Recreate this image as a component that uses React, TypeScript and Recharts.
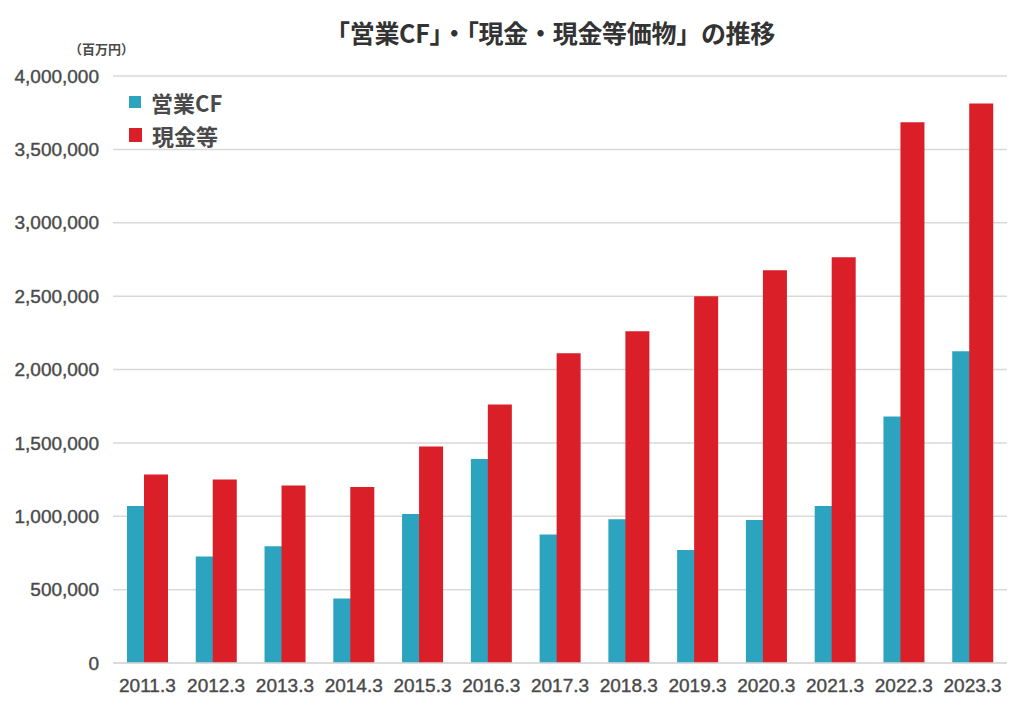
import React from "react";
import { BarChart, Bar, XAxis, YAxis, CartesianGrid } from "recharts";

const categories = ["2011.3","2012.3","2013.3","2014.3","2015.3","2016.3","2017.3","2018.3","2019.3","2020.3","2021.3","2022.3","2023.3"];
const operatingCF = [1070000, 725000, 795000, 440000, 1015000, 1390000, 875000, 980000, 770000, 975000, 1070000, 1680000, 2125000];
const cash = [1285000, 1250000, 1210000, 1200000, 1475000, 1762000, 2110000, 2260000, 2500000, 2677000, 2765000, 3685000, 3812000];
const yTicks = [0, 500000, 1000000, 1500000, 2000000, 2500000, 3000000, 3500000, 4000000];

const data = categories.map((c, i) => ({ name: c, cf: operatingCF[i], cash: cash[i] }));

const TEAL = "#2CA3BF";
const RED = "#DB1F29";
const TEXT = "#4a4a4a";
const FONT = "'Liberation Sans', Arial, sans-serif";
const JFONT = "'Noto Sans CJK JP', sans-serif";

export default function App() {
  return (
    <div style={{ position: "relative", width: 1008, height: 701, fontFamily: FONT }}>
      <div style={{ position: "absolute", left: 0, width: 1084, top: 7, textAlign: "center", fontFamily: JFONT, fontWeight: 700, fontSize: 25, color: "#333", lineHeight: "34px", letterSpacing: -0.3 }}>
        「営業CF」・「現金・現金等価物」の推移
      </div>
      <div style={{ position: "absolute", left: 61, top: 32, fontFamily: JFONT, fontWeight: 700, fontSize: 13, color: TEXT, lineHeight: "18px" }}>
        （百万円）
      </div>
      <div style={{ position: "absolute", left: 121, top: 79, fontFamily: JFONT, fontWeight: 700, fontSize: 22, color: TEXT, lineHeight: "30px" }}>
        <div style={{ display: "flex", alignItems: "center" }}>
          <span style={{ display: "inline-block", width: 12, height: 12, background: TEAL, marginRight: 10 }} />
          <span>営業CF</span>
        </div>
        <div style={{ display: "flex", alignItems: "center", marginTop: 3 }}>
          <span style={{ display: "inline-block", width: 13, height: 14, background: RED, marginRight: 10 }} />
          <span>現金等</span>
        </div>
      </div>
      <BarChart
        width={1008}
        height={701}
        data={data}
        margin={{ top: 68, right: 9, bottom: 16, left: 0 }}
        barSize={24}
        barGap={-7}
      >
        <CartesianGrid vertical={false} stroke="#d9d9d9" strokeWidth={1.5} />
        <XAxis
          dataKey="name"
          height={30}
          tickLine={false}
          axisLine={{ stroke: "#d9d9d9", strokeWidth: 1.5 }}
          tick={{ fill: TEXT, stroke: TEXT, strokeWidth: 0.4, fontSize: 19, fontFamily: FONT }}
          tickMargin={10}
          interval={0}
        />
        <YAxis
          width={105}
          domain={[0, 4000000]}
          ticks={yTicks}
          tickLine={false}
          axisLine={false}
          tick={{ fill: TEXT, stroke: TEXT, strokeWidth: 0.4, fontSize: 19, fontFamily: FONT }}
          tickMargin={8}
          tickFormatter={(v: number) => v.toLocaleString("en-US")}
        />
        <Bar dataKey="cf" fill={TEAL} isAnimationActive={false} />
        <Bar dataKey="cash" fill={RED} isAnimationActive={false} />
      </BarChart>
    </div>
  );
}
